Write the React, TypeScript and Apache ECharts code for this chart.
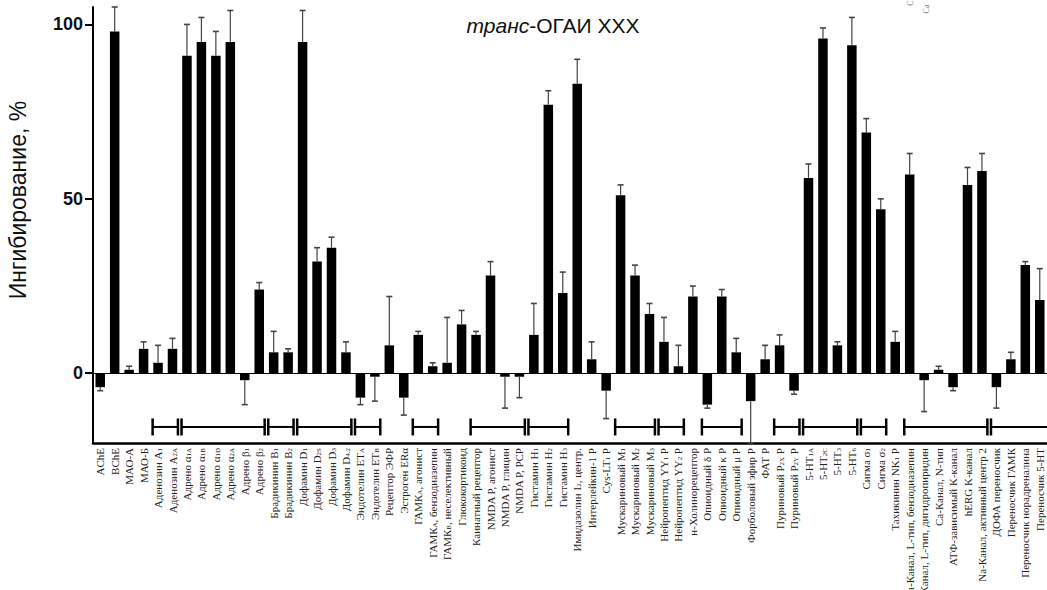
import React, { useEffect, useRef } from "react";
import * as echarts from "echarts";

const categories: string[] = [
  "AChE", "BChE", "МАО-А", "МАО-Б",
  "Аденозин A_{1}", "Аденозин A_{2A}",
  "Адрено α_{1A}", "Адрено α_{1B}", "Адрено α_{1D}", "Адрено α_{2A}", "Адрено β_{1}", "Адрено β_{2}",
  "Брадикинин B_{1}", "Брадикинин B_{2}",
  "Дофамин D_{1}", "Дофамин D_{2S}", "Дофамин D_{3}", "Дофамин D_{4.2}",
  "Эндотелин ET_{A}", "Эндотелин ET_{B}",
  "Рецептор ЭФР", "Эстроген ERα",
  "ГАМК_{A}, агонист", "ГАМК_{A}, бензодиазепин", "ГАМК_{B}, неселективный",
  "Глюкокортикоид", "Каинатный рецептор",
  "NMDA P, агонист", "NMDA P, глицин", "NMDA P, PCP",
  "Гистамин H_{1}", "Гистамин H_{2}", "Гистамин H_{3}",
  "Имидазолин I_{2}, центр.", "Интерлейкин-1 P", "Cys-LT_{1} P",
  "Мускариновый M_{1}", "Мускариновый M_{2}", "Мускариновый M_{3}",
  "Нейропептид YY_{1} P", "Нейропептид YY_{2} P",
  "н-Холинорецептор",
  "Опиоидный δ P", "Опиоидный κ P", "Опиоидный μ P",
  "Форболовый эфир P", "ФАТ P",
  "Пуриновый P_{2X} P", "Пуриновый P_{2Y} P",
  "5-HT_{1A}", "5-HT_{2C}", "5-HT_{3}", "5-HT_{6}",
  "Сигма σ_{1}", "Сигма σ_{2}",
  "Тахикинин NK_{1} P",
  "Са-Канал, L-тип, бензодиазепин", "Са-Канал, L-тип, дигидропиридин", "Са-Канал, N-тип",
  "АТФ-зависимый K-канал", "hERG K-канал", "Na-Канал, активный центр 2",
  "ДОФА переносчик", "Переносчик ГАМК", "Переносчик норадреналина", "Переносчик 5-HT",
];

const inhibition: number[] = [
  -4, 98, 1, 7, 3, 7, 91, 95, 91, 95,
  -2, 24, 6, 6, 95, 32, 36, 6, -7, -1,
  8, -7, 11, 2, 3, 14, 11, 28, -1, -1,
  11, 77, 23, 83, 4, -5, 51, 28, 17, 9,
  2, 22, -9, 22, 6, -8, 4, 8, -5, 56,
  96, 8, 94, 69, 47, 9, 57, -2, 1, -4,
  54, 58, -4, 4, 31, 21,
];

const errorsSD: number[] = [
  1, 7, 1, 2, 5, 3, 9, 7, 7, 9,
  7, 2, 6, 1, 9, 4, 3, 3, 2, 7,
  14, 5, 1, 1, 13, 4, 1, 4, 9, 6,
  9, 4, 6, 7, 5, 8, 3, 3, 3, 7,
  6, 3, 1, 2, 4, 12, 4, 3, 1, 4,
  3, 1, 8, 4, 3, 3, 6, 9, 1, 1,
  5, 5, 6, 2, 1, 9,
];

// receptor groups: first index, last index, open at right (1) or closed (0)
const groupStart: number[] = [4, 6, 12, 14, 18, 22, 26, 30, 36, 39, 42, 47, 49, 53, 56, 62];
const groupEnd: number[] = [5, 11, 13, 17, 19, 23, 29, 32, 38, 40, 44, 48, 52, 54, 61, 65];
const groupOpen: number[] = [0, 0, 0, 0, 0, 0, 0, 0, 0, 0, 0, 0, 0, 0, 0, 1];

const yTicks: number[] = [0, 50, 100];
const titleItalic = "транс";
const titleRest = "-ОГАИ XXX";
const yName = "Ингибирование, %";

export default function App() {
  const ref = useRef<HTMLDivElement>(null);
  useEffect(() => {
    document.body.style.margin = "0";
    const chart = echarts.init(ref.current as HTMLDivElement, null, { renderer: "svg" });
    const errData = inhibition.map((v, i) => [i, v, errorsSD[i]]);
    const groupData = groupStart.map((s, k) => [s, groupEnd[k], groupOpen[k]]);

    const option: any = {
      animation: false,
      backgroundColor: "#fff",
      grid: { left: 93, right: 0, top: 7, bottom: 147, containLabel: false, outerBoundsMode: "none" },
      xAxis: {
        type: "category",
        data: categories,
        axisLine: { onZero: false, lineStyle: { color: "#000", width: 2.5 } },
        axisTick: { show: false },
        axisLabel: {
          interval: 0,
          rotate: 90,
          margin: 5,
          fontFamily: "Liberation Serif",
          fontSize: 11,
          color: "#222",
          formatter: (s: string) => s.replace(/_\{([^}]*)\}/g, "{s|$1}"),
          rich: {
            s: { fontFamily: "Liberation Serif", fontSize: 7, color: "#222", verticalAlign: "bottom" },
          },
        },
      },
      yAxis: {
        type: "value",
        min: -20,
        max: 105,
        axisLine: { show: true, lineStyle: { color: "#000", width: 2 } },
        axisTick: { show: true, length: 8, customValues: yTicks, lineStyle: { color: "#000", width: 2 } },
        axisLabel: {
          customValues: yTicks,
          fontFamily: "Liberation Sans",
          fontWeight: "bold",
          fontSize: 18,
          color: "#111",
          margin: 10,
        },
        splitLine: { show: false },
      },
      graphic: [
        {
          type: "text",
          x: 553,
          y: 25,
          style: {
            text: `{i|${titleItalic}}${titleRest}`,
            font: "21px 'Liberation Sans'",
            fill: "#111",
            align: "center",
            verticalAlign: "middle",
            rich: { i: { fontStyle: "italic", fontFamily: "Liberation Sans", fontSize: 21, fill: "#111" } },
          },
        },
        {
          type: "text",
          x: 18,
          y: 200,
          rotation: Math.PI / 2,
          style: {
            text: yName,
            font: "23px 'Liberation Sans'",
            fill: "#111",
            align: "center",
            verticalAlign: "middle",
          },
        },
        {
          type: "text",
          x: 910,
          y: 3,
          rotation: Math.PI / 2,
          style: { text: "C", font: "8px 'Liberation Serif'", fill: "#777", align: "center", verticalAlign: "middle" },
        },
        {
          type: "text",
          x: 926,
          y: 9,
          rotation: Math.PI / 2,
          style: { text: "Ca", font: "8px 'Liberation Serif'", fill: "#777", align: "center", verticalAlign: "middle" },
        },
      ],
      series: [
        {
          type: "bar",
          data: inhibition,
          barWidth: 9.5,
          itemStyle: { color: "#000" },
          markLine: {
            silent: true,
            symbol: "none",
            label: { show: false },
            lineStyle: { color: "#000", width: 1, type: "solid" },
            data: [{ yAxis: 0 }],
          },
          z: 2,
        },
        {
          type: "custom",
          data: errData,
          encode: { x: 0, y: 1 },
          z: 3,
          renderItem: (params: any, api: any) => {
            const i = api.value(0);
            const v = api.value(1);
            const e = api.value(2);
            const end = v >= 0 ? v + e : v - e;
            const p0 = api.coord([i, v]);
            const p1 = api.coord([i, end]);
            const hw = 3;
            return {
              type: "group",
              children: [
                { type: "line", shape: { x1: p0[0], y1: p0[1], x2: p1[0], y2: p1[1] }, style: { stroke: "#444", lineWidth: 1.2 } },
                { type: "line", shape: { x1: p1[0] - hw, y1: p1[1], x2: p1[0] + hw, y2: p1[1] }, style: { stroke: "#444", lineWidth: 1.6 } },
              ],
            };
          },
        },
        {
          type: "custom",
          data: groupData,
          encode: { x: 0 },
          z: 3,
          clip: true,
          renderItem: (params: any, api: any) => {
            const s = api.value(0);
            const e = api.value(1);
            const open = api.value(2);
            const bw = api.size([1, 0])[0];
            const y = api.coord([0, -15.4])[1];
            const xs = api.coord([s, 0])[0] - bw / 2 + 1.8;
            const xe = open ? api.coord([e, 0])[0] + bw / 2 + 2 : api.coord([e, 0])[0] + bw / 2 - 1.8;
            const children: any[] = [
              { type: "line", shape: { x1: xs, y1: y, x2: xe, y2: y }, style: { stroke: "#000", lineWidth: 2 } },
              { type: "line", shape: { x1: xs, y1: y - 8.5, x2: xs, y2: y + 8.5 }, style: { stroke: "#000", lineWidth: 2.5 } },
            ];
            if (!open) {
              children.push({ type: "line", shape: { x1: xe, y1: y - 8.5, x2: xe, y2: y + 8.5 }, style: { stroke: "#000", lineWidth: 2.5 } });
            }
            return { type: "group", children };
          },
        },
      ],
    };
    chart.setOption(option);
    return () => chart.dispose();
  }, []);
  return <div ref={ref} style={{ position: "fixed", left: 0, top: 0, width: 1047, height: 590 }} />;
}
